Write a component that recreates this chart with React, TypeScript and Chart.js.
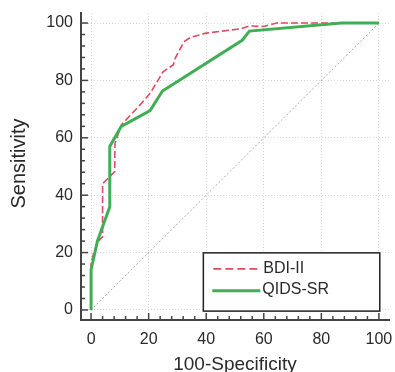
import React, { useEffect, useRef } from "react";
import { Chart, registerables } from "chart.js";

Chart.register(...registerables);

// ---- data ----
const bdiX = [0, 0, 0.9, 2.5, 4, 4, 6.7, 8.2, 8.3, 10.5, 17.5, 20.5, 25, 28.6, 29.2, 32.3, 34.5, 40, 52, 55, 60, 64.5, 100];
const bdiY = [0, 16, 20, 24, 25.5, 44, 46.7, 48.2, 58, 64.5, 72, 75.5, 83, 85.5, 87.7, 93.5, 95, 96.5, 98, 99, 98.8, 100, 100];
const qidsX = [0, 0, 2.2, 6.5, 6.5, 10.5, 20.5, 24.8, 52.5, 55, 87, 100];
const qidsY = [0, 14, 24, 36, 57, 64, 69.5, 76.3, 94, 97.2, 100, 100];
const refX = [0, 100];
const refY = [0, 100];
const tickValues = [0, 20, 40, 60, 80, 100];
const minorStep = 4;
const seriesNames = ["BDI-II", "QIDS-SR"];
const xTitle = "100-Specificity";
const yTitle = "Sensitivity";

const RED = "#e04a5e";
const GREEN = "#3fae55";
const TEXT = "#2a2a2a";
const FONT = "'Liberation Sans', Arial, sans-serif";

const toPts = (xs: number[], ys: number[]) => xs.map((x, i) => ({ x, y: ys[i] }));

const overlay = {
  id: "overlay",
  afterDatasetsDraw(chart: any) {
    const { ctx, chartArea, scales } = chart;
    const xs = scales.x;
    const ys = scales.y;
    ctx.save();
    // tick marks (inward)
    ctx.strokeStyle = "#444";
    ctx.lineWidth = 1.5;
    for (let v = 0; v <= 100; v += minorStep) {
      const major = v % 20 === 0;
      const len = major ? 7 : 4;
      const py = ys.getPixelForValue(v);
      ctx.beginPath();
      ctx.moveTo(chartArea.left, py);
      ctx.lineTo(chartArea.left + len, py);
      ctx.stroke();
      const px = xs.getPixelForValue(v);
      ctx.beginPath();
      ctx.moveTo(px, chartArea.bottom);
      ctx.lineTo(px, chartArea.bottom - len);
      ctx.stroke();
    }
    // legend box
    const lx0 = xs.getPixelForValue(39);
    const lx1 = xs.getPixelForValue(100.3);
    const ly0 = ys.getPixelForValue(19.9);
    const ly1 = ys.getPixelForValue(-0.4);
    ctx.fillStyle = "#ffffff";
    ctx.fillRect(lx0, ly0, lx1 - lx0, ly1 - ly0);
    ctx.strokeStyle = "#222";
    ctx.lineWidth = 1.5;
    ctx.strokeRect(lx0, ly0, lx1 - lx0, ly1 - ly0);
    // entries
    ctx.lineWidth = 1.6;
    ctx.strokeStyle = RED;
    ctx.setLineDash([8, 4]);
    ctx.beginPath();
    ctx.moveTo(lx0 + 10, ly0 + 16);
    ctx.lineTo(lx0 + 54, ly0 + 16);
    ctx.stroke();
    ctx.setLineDash([]);
    ctx.lineWidth = 3;
    ctx.strokeStyle = GREEN;
    ctx.beginPath();
    ctx.moveTo(lx0 + 9, ly0 + 38);
    ctx.lineTo(lx0 + 57, ly0 + 38);
    ctx.stroke();
    ctx.fillStyle = TEXT;
    ctx.font = `16px ${FONT}`;
    ctx.textBaseline = "middle";
    ctx.textAlign = "left";
    ctx.fillText(seriesNames[0], lx0 + 60, ly0 + 16);
    ctx.fillText(seriesNames[1], lx0 + 59, ly0 + 37);
    // axis titles
    ctx.font = `19px ${FONT}`;
    ctx.textBaseline = "alphabetic";
    ctx.textAlign = "center";
    ctx.fillText(xTitle, (chartArea.left + chartArea.right) / 2, 370);
    ctx.font = `20px ${FONT}`;
    ctx.save();
    ctx.translate(25, (chartArea.top + chartArea.bottom) / 2 - 3);
    ctx.rotate(-Math.PI / 2);
    ctx.fillText(yTitle, 0, 0);
    ctx.restore();
    ctx.restore();
  },
};

export default function App() {
  const ref = useRef<HTMLCanvasElement | null>(null);
  useEffect(() => {
    if (!ref.current) return;
    const setTicks = (s: any) => {
      s.ticks = tickValues.map((v) => ({ value: v }));
    };
    const chart = new Chart(ref.current, {
      type: "line",
      data: {
        datasets: [
          {
            label: seriesNames[1],
            data: toPts(qidsX, qidsY),
            borderColor: GREEN,
            borderWidth: 3,
            pointRadius: 0,
            tension: 0,
            order: 0,
          },
          {
            label: seriesNames[0],
            data: toPts(bdiX, bdiY),
            borderColor: RED,
            borderWidth: 1.6,
            borderDash: [7, 3],
            pointRadius: 0,
            tension: 0,
            order: 1,
          },
          {
            label: "ref",
            data: toPts(refX, refY),
            borderColor: "#aaaaaa",
            borderWidth: 1,
            borderDash: [2, 2],
            pointRadius: 0,
            tension: 0,
            order: 2,
          },
        ],
      },
      options: {
        responsive: false,
        animation: false,
        devicePixelRatio: 1,
        layout: { autoPadding: false, padding: { top: 13, right: 6, left: 0, bottom: 0 } },
        plugins: { legend: { display: false }, tooltip: { enabled: false } },
        scales: {
          x: {
            type: "linear",
            min: -3.5,
            max: 103.5,
            afterBuildTicks: setTicks,
            afterFit: (s: any) => {
              s.height = 52;
              s.paddingLeft = 0;
              s.paddingRight = 0;
            },
            grid: { color: "#d6d6d6", lineWidth: 1, drawTicks: false },
            border: { display: true, color: "#444", width: 2, dash: [1, 2] },
            ticks: {
              padding: 10,
              color: TEXT,
              font: { family: FONT, size: 16 },
              maxRotation: 0,
            },
          },
          y: {
            type: "linear",
            min: -3.5,
            max: 103.5,
            afterBuildTicks: setTicks,
            afterFit: (s: any) => {
              s.width = 81;
              s.paddingTop = 0;
              s.paddingBottom = 0;
            },
            grid: { color: "#d6d6d6", lineWidth: 1, drawTicks: false },
            border: { display: true, color: "#444", width: 2, dash: [1, 2] },
            ticks: {
              padding: 8,
              color: TEXT,
              font: { family: FONT, size: 16 },
            },
          },
        },
      },
      plugins: [overlay],
    });
    return () => chart.destroy();
  }, []);
  return (
    <div style={{ position: "fixed", left: 0, top: 0, width: 395, height: 372, background: "#fff" }}>
      <canvas ref={ref} width={395} height={372} style={{ display: "block" }} />
    </div>
  );
}
